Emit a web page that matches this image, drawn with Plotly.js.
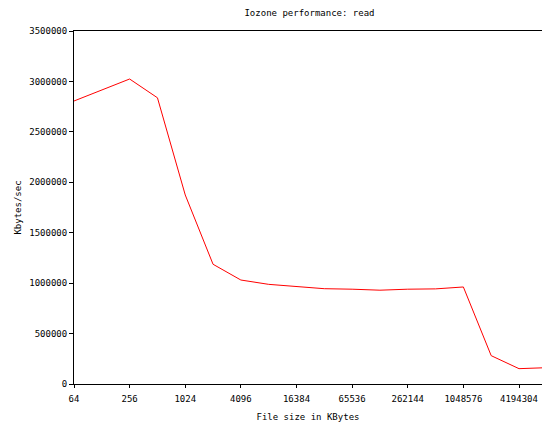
<!DOCTYPE html>
<html>
<head>
<meta charset="utf-8">
<script src="https://cdn.plot.ly/plotly-3.0.1.min.js"></script>
<style>html,body{margin:0;padding:0;background:#fff;overflow:hidden}</style>
</head>
<body>
<div id="chart" style="width:542px;height:423px"></div>
<script>
const fileSizes = [64, 128, 256, 512, 1024, 2048, 4096, 8192, 16384, 32768, 65536, 131072, 262144, 524288, 1048576, 2097152, 4194304, 8388608];
const readKBps = [2806000, 2915000, 3024000, 2838000, 1874000, 1187000, 1031000, 988000, 965000, 945000, 940000, 930000, 940000, 943000, 962000, 281000, 152000, 162000];
const xTickVals = [64, 256, 1024, 4096, 16384, 65536, 262144, 1048576, 4194304];
const xTickText = ["64", "256", "1024", "4096", "16384", "65536", "262144", "1048576", "4194304"];
const yTickVals = [0, 500000, 1000000, 1500000, 2000000, 2500000, 3000000, 3500000];

const font = {family: "DejaVu Sans Mono, Liberation Mono, monospace", size: 9, color: "#000"};

Plotly.newPlot("chart", [{
  x: fileSizes, y: readKBps, type: "scatter", mode: "lines",
  line: {color: "#ff0000", width: 1}, hoverinfo: "none"
}], {
  width: 542, height: 423,
  margin: {l: 74, r: 0, t: 31, b: 39},
  paper_bgcolor: "#fff", plot_bgcolor: "#fff",
  showlegend: false,
  font: font,
  title: {text: "Iozone performance: read", font: font, xref: "container", x: 0.571, xanchor: "center", yref: "container", y: 0.969, yanchor: "middle"},
  xaxis: {
    type: "log", range: [Math.log10(64), 22.827 * Math.log10(2)],
    tickvals: xTickVals, ticktext: xTickText,
    ticks: "outside", ticklen: 3, tickcolor: "#000", tickwidth: 1,
    ticklabelstandoff: 3,
    showline: true, linecolor: "#000", linewidth: 1, mirror: true,
    showgrid: false, zeroline: false, tickfont: font,
    title: {text: "File size in KBytes", font: font, standoff: 10}
  },
  yaxis: {
    range: [0, 3500000], tickvals: yTickVals, tickformat: "d",
    ticks: "outside", ticklen: 4, tickcolor: "#000", tickwidth: 1,
    showline: true, linecolor: "#000", linewidth: 1,
    showgrid: false, zeroline: false, tickfont: font,
    title: {text: "Kbytes/sec", font: font, standoff: 6}
  }
}, {staticPlot: true, displayModeBar: false});
</script>
</body>
</html>
